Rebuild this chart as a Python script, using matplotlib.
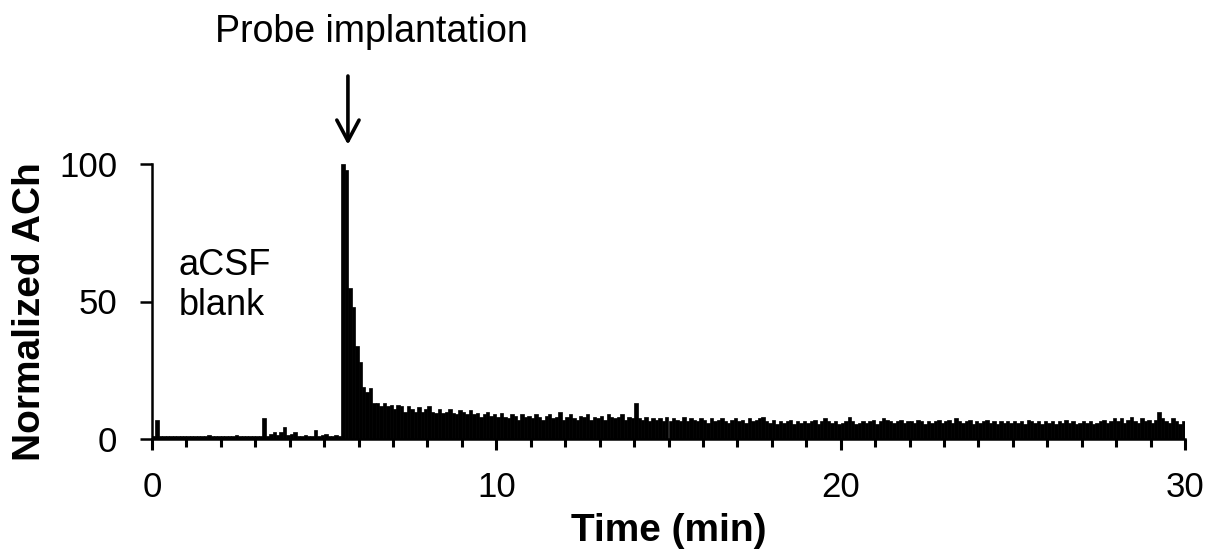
import numpy as np
import matplotlib
matplotlib.use("Agg")
import matplotlib.pyplot as plt

plt.rcParams['font.family'] = ['Liberation Sans', 'DejaVu Sans']

# Normalized ACh, one value per 0.1 min (rows = minutes 0..29)
ach_by_minute = [
    [1, 7, 1, 1, 1, 1, 1, 1, 1, 1],
    [1, 1, 1, 1, 1, 1, 1.5, 1, 1, 1],
    [1, 1, 1, 1, 1.5, 1, 1, 1, 1, 1],
    [1, 1, 7.5, 1, 2, 2.5, 1.5, 2.5, 4.5, 1.5],
    [2, 2.5, 1, 1, 1.5, 1, 1, 3.3, 1, 1.5],
    [2, 1, 1, 1.5, 1, 100, 98, 55, 48, 34],
    [28, 19, 17, 18.5, 13, 13, 12, 13, 12, 12.5],
    [11, 12.5, 12, 10, 12, 11, 10, 11.5, 10, 11],
    [12, 10, 9.5, 11, 9.5, 10, 11, 9.5, 9, 10.5],
    [10, 9, 10.5, 9, 9.5, 8, 9, 10, 8.5, 9],
    [8, 9.5, 8, 7.5, 9, 8.5, 7, 9, 8, 8.5],
    [7.5, 9, 8, 7, 8.5, 9, 7.5, 8, 10, 7],
    [8, 9, 7.5, 7, 8.5, 8, 9, 7, 8, 7.5],
    [8.5, 7, 9, 8, 7.5, 8, 9, 7, 8, 7.5],
    [13, 7.5, 7, 8, 6.5, 7.5, 7, 7.5, 6.5, 8],
    [6.5, 7.5, 7, 6.5, 8, 6.5, 7.5, 7, 6.5, 7.5],
    [7, 6, 7.5, 6.5, 7, 7.5, 6.5, 6, 7, 7.5],
    [6.5, 7, 6, 7.5, 6.5, 7, 7.5, 8, 6.5, 6],
    [7, 5.5, 6.5, 6, 6.5, 7, 5.5, 6.5, 6, 6.5],
    [6, 6.5, 7, 5.5, 6.5, 7.5, 6.5, 6, 6.5, 5.5],
    [6, 6.5, 8, 6.5, 5.5, 6, 6.5, 6, 6.5, 7],
    [5.5, 6.5, 7.5, 7, 6.5, 6, 6.5, 7, 6, 6.5],
    [6.5, 6, 7, 6.5, 5.5, 6.5, 6, 6.5, 7, 6],
    [6.5, 7, 6, 7.5, 6.5, 6, 6.5, 7, 5.5, 6.5],
    [6, 6.5, 7, 6, 6.5, 5.5, 6.5, 6, 6.5, 6],
    [6.5, 6, 6.5, 5.5, 7, 6.5, 6, 6.5, 5.5, 6.5],
    [6, 6.5, 5.5, 6.5, 6, 7, 6, 6.5, 5.5, 6],
    [6.5, 6, 6.5, 5.5, 6, 6.5, 7, 6, 6.5, 7.5],
    [6.5, 7.5, 6, 7, 8, 6.5, 6, 7.5, 6.5, 7],
    [6, 7, 10, 7.5, 6.5, 6, 7.5, 6.5, 5.5, 6.5],
]
sample_step = 0.1  # min
x_ticks_major = [0, 10, 20, 30]
y_ticks = [0, 50, 100]
arrow_time = 5.69

values = np.concatenate([np.array(r, dtype=float) for r in ach_by_minute])
times = np.arange(len(values)) * sample_step

fig = plt.figure(figsize=(12.17, 5.59), dpi=100)
ax = fig.add_axes([152/1217, 1 - 439/559, (1185-152)/1217, (439-164)/559])

ax.bar(times, values, width=sample_step, align='edge', color='black',
       edgecolor='black', linewidth=0.5)

ax.set_xlim(0, 30)
ax.set_ylim(0, 100)
ax.spines['top'].set_visible(False)
ax.spines['right'].set_visible(False)
for s in ('left', 'bottom'):
    ax.spines[s].set_linewidth(1.8)

ax.set_xticks(x_ticks_major)
ax.set_xticks(np.arange(0, 31, 1), minor=True)
ax.set_yticks(y_ticks)
ax.tick_params(axis='x', which='major', direction='out', length=8, width=2.2,
               labelsize=25, pad=15)
ax.tick_params(axis='x', which='minor', direction='out', length=6, width=2.2)
ax.tick_params(axis='y', which='major', direction='out', length=9, width=1.8,
               labelsize=25, pad=16)

ax.set_xlabel('Time (min)', fontsize=28, fontweight='bold', va='center')
ax.xaxis.set_label_coords(0.5, (439 - 531) / 275)
ax.set_ylabel('Normalized ACh', fontsize=28, fontweight='bold', va='center')
ax.yaxis.set_label_coords((30 - 152) / 1033, (439 - 312) / 275)

ax.text(0.78, 69.5, 'aCSF\nblank', fontsize=26, va='top', ha='left',
        linespacing=1.2)

ax.annotate('', xy=(arrow_time, 107), xytext=(arrow_time, 132),
            arrowprops=dict(arrowstyle='->,head_length=0.75,head_width=0.4',
                            lw=2.6, color='black', shrinkA=0, shrinkB=0,
                            mutation_scale=20),
            annotation_clip=False)
fig.text(371.5/1217, 1 - 42/559, 'Probe implantation', fontsize=27,
         ha='center', va='baseline')

fig.savefig('out.png', dpi=100)
